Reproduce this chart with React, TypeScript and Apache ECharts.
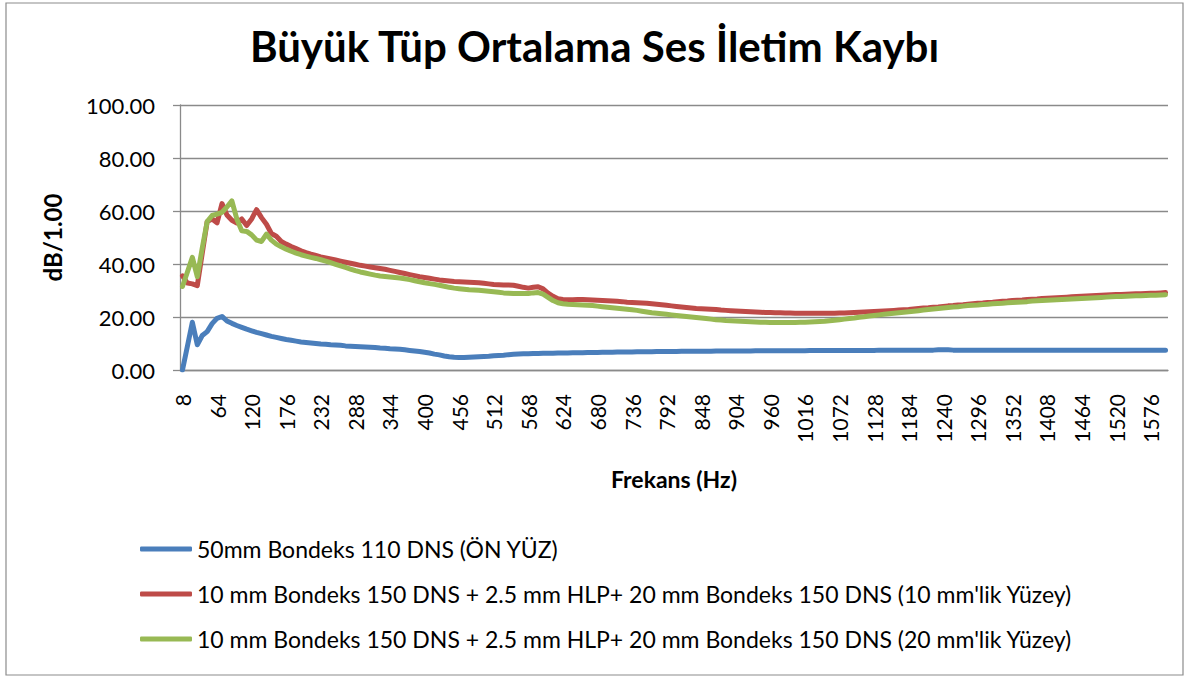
import React, { useEffect, useRef } from "react";
import * as echarts from "echarts";

const titleText = "Büyük Tüp Ortalama Ses İletim Kaybı";
const yAxisName = "dB/1.00";
const xAxisName = "Frekans (Hz)";
const seriesNames = [
  "50mm Bondeks 110 DNS (ÖN YÜZ)",
  "10 mm Bondeks 150 DNS + 2.5 mm HLP+ 20 mm Bondeks 150 DNS (10 mm'lik Yüzey)",
  "10 mm Bondeks 150 DNS + 2.5 mm HLP+ 20 mm Bondeks 150 DNS (20 mm'lik Yüzey)",
];
const seriesColors = ["#4A7EBB", "#BE4B48", "#98B954"];

// Frequencies 8 Hz .. 1600 Hz, step 8 Hz
const frequencies: string[] = [];
for (let f = 8; f <= 1600; f += 8) frequencies.push(String(f));

const blueValues = [
  0, 9, 18, 9.5, 13, 14.5, 17.5, 19.5, 20.2, 18.5,
  17.6, 16.8, 16.1, 15.4, 14.8, 14.2, 13.7, 13.2, 12.7, 12.3,
  11.9, 11.5, 11.2, 10.9, 10.6, 10.4, 10.2, 10.0, 9.8, 9.7,
  9.5, 9.4, 9.3, 9.1, 9.0, 8.9, 8.8, 8.7, 8.6, 8.5,
  8.3, 8.2, 8.0, 7.9, 7.8, 7.6, 7.4, 7.2, 7.0, 6.7,
  6.4, 6.0, 5.7, 5.3, 5.0, 4.8, 4.7, 4.7, 4.8, 4.9,
  5.0, 5.1, 5.2, 5.4, 5.5, 5.6, 5.8, 5.9, 6.0, 6.1,
  6.1, 6.2, 6.2, 6.3, 6.3, 6.3, 6.4, 6.4, 6.4, 6.5,
  6.5, 6.5, 6.6, 6.6, 6.6, 6.7, 6.7, 6.7, 6.8, 6.8,
  6.8, 6.8, 6.9, 6.9, 6.9, 6.9, 7.0, 7.0, 7.0, 7.0,
  7.0, 7.1, 7.1, 7.1, 7.1, 7.1, 7.1, 7.1, 7.2, 7.2,
  7.2, 7.2, 7.2, 7.2, 7.2, 7.2, 7.3, 7.3, 7.3, 7.3,
  7.3, 7.3, 7.3, 7.3, 7.3, 7.3, 7.3, 7.4, 7.4, 7.4,
  7.4, 7.4, 7.4, 7.4, 7.4, 7.4, 7.4, 7.4, 7.4, 7.4,
  7.4, 7.5, 7.5, 7.5, 7.5, 7.5, 7.5, 7.5, 7.5, 7.5,
  7.5, 7.5, 7.5, 7.6, 7.6, 7.6, 7.5, 7.5, 7.5, 7.5,
  7.5, 7.5, 7.5, 7.5, 7.5, 7.5, 7.5, 7.5, 7.5, 7.5,
  7.5, 7.5, 7.5, 7.5, 7.5, 7.5, 7.5, 7.5, 7.5, 7.5,
  7.5, 7.5, 7.5, 7.5, 7.5, 7.5, 7.5, 7.5, 7.5, 7.5,
  7.5, 7.5, 7.5, 7.5, 7.5, 7.5, 7.5, 7.5, 7.5, 7.5,
];

const redValues = [
  35.5, 32.8, 32.5, 31.8, 44, 56, 57, 55.5, 62.8, 58.5,
  56.5, 55.5, 57, 54.5, 57, 60.5, 57.5, 55, 51.5, 50.5,
  48.5, 47.5, 46.6, 45.8, 45.0, 44.3, 43.7, 43.2, 42.7, 42.3,
  41.9, 41.5, 41.1, 40.7, 40.3, 39.9, 39.5, 39.2, 38.9, 38.6,
  38.3, 38.0, 37.6, 37.2, 36.8, 36.4, 36.0, 35.6, 35.2, 34.9,
  34.6, 34.3, 34.0, 33.8, 33.6, 33.4, 33.3, 33.2, 33.1, 33.0,
  32.9, 32.7, 32.5, 32.3, 32.2, 32.1, 32.1, 32.0, 31.6, 31.2,
  30.9, 31.2, 31.4, 30.6, 29.0, 27.8, 26.9, 26.6, 26.5, 26.5,
  26.6, 26.6, 26.5, 26.4, 26.3, 26.2, 26.1, 26.0, 25.9, 25.8,
  25.6, 25.5, 25.4, 25.3, 25.2, 25.0, 24.8, 24.6, 24.4, 24.2,
  24.0, 23.8, 23.6, 23.4, 23.2, 23.1, 23.0, 22.9, 22.8, 22.6,
  22.5, 22.4, 22.3, 22.2, 22.1, 22.0, 21.9, 21.8, 21.7, 21.7,
  21.6, 21.6, 21.5, 21.5, 21.4, 21.4, 21.4, 21.4, 21.4, 21.4,
  21.4, 21.4, 21.4, 21.5, 21.5, 21.6, 21.7, 21.8, 21.9, 22.0,
  22.1, 22.2, 22.3, 22.4, 22.5, 22.6, 22.7, 22.8, 23.0, 23.2,
  23.4, 23.5, 23.7, 23.8, 24.0, 24.2, 24.3, 24.5, 24.6, 24.8,
  25.0, 25.2, 25.3, 25.5, 25.6, 25.8, 25.9, 26.0, 26.2, 26.3,
  26.4, 26.6, 26.7, 26.8, 27.0, 27.1, 27.2, 27.3, 27.4, 27.5,
  27.6, 27.7, 27.8, 27.9, 28.0, 28.1, 28.2, 28.3, 28.4, 28.5,
  28.5, 28.6, 28.7, 28.8, 28.8, 28.9, 29.0, 29.0, 29.1, 29.2,
];

const greenValues = [
  31.5, 37, 42.5, 35.2, 46, 56, 58.3, 58.8, 59.5, 61.5,
  63.8, 57, 52.5, 52.3, 51, 49, 48.5, 51.3, 49, 47.5,
  46.5, 45.6, 44.8, 44.1, 43.5, 43.0, 42.5, 42.1, 41.6, 41.1,
  40.5, 39.9, 39.3, 38.7, 38.1, 37.5, 37.0, 36.6, 36.2, 35.8,
  35.5, 35.3, 35.1, 34.9, 34.7, 34.4, 34.1, 33.7, 33.3, 32.9,
  32.6, 32.3, 32.0, 31.6, 31.2, 30.9, 30.7, 30.5, 30.3, 30.2,
  30.1, 29.9, 29.7, 29.5, 29.3, 29.1, 29.0, 28.9, 28.9, 28.9,
  28.9, 29.1, 29.2, 28.6, 27.4, 26.2, 25.4, 25.0, 24.8, 24.7,
  24.6, 24.5, 24.4, 24.3, 24.1, 23.9, 23.7, 23.5, 23.3, 23.1,
  22.9, 22.7, 22.5, 22.2, 21.9, 21.6, 21.4, 21.2, 21.0, 20.8,
  20.6, 20.4, 20.2, 20.0, 19.8, 19.6, 19.4, 19.2, 19.0, 18.9,
  18.7, 18.6, 18.5, 18.4, 18.3, 18.2, 18.1, 18.0, 18.0, 17.9,
  17.9, 17.9, 17.9, 17.9, 17.9, 18.0, 18.0, 18.1, 18.2, 18.3,
  18.4, 18.6, 18.8, 19.0, 19.2, 19.4, 19.6, 19.9, 20.1, 20.4,
  20.6, 20.8, 21.0, 21.2, 21.4, 21.6, 21.8, 22.0, 22.2, 22.4,
  22.6, 22.8, 23.0, 23.2, 23.4, 23.6, 23.8, 23.9, 24.1, 24.3,
  24.4, 24.5, 24.7, 24.8, 25.0, 25.1, 25.2, 25.4, 25.5, 25.6,
  25.7, 25.8, 26.0, 26.1, 26.2, 26.3, 26.4, 26.5, 26.6, 26.7,
  26.8, 26.9, 27.0, 27.1, 27.2, 27.3, 27.4, 27.5, 27.6, 27.7,
  27.7, 27.8, 27.9, 28.0, 28.0, 28.1, 28.2, 28.2, 28.3, 28.4,
];

const FONT = "Lato";
const GRID_COLOR = "#8a8a8a";

export default function App() {
  const ref = useRef<HTMLDivElement>(null);

  useEffect(() => {
    document.body.style.margin = "0";
    if (!ref.current) return;
    const chart = echarts.init(ref.current, undefined, { renderer: "svg" });
    const allValues = [blueValues, redValues, greenValues];
    chart.setOption({
      animation: false,
      backgroundColor: "#ffffff",
      textStyle: { fontFamily: FONT, color: "#000" },
      title: {
        text: titleText,
        left: "center",
        top: 20,
        textStyle: { fontFamily: FONT, fontSize: 42, fontWeight: "bold", color: "#000" },
      },
      graphic: [
        {
          type: "rect",
          shape: { x: 6, y: 3, width: 1177, height: 672 },
          style: { fill: "none", stroke: "#8c8c8c", lineWidth: 1.2 },
          silent: true,
        },
      ],
      legend: {
        orient: "vertical",
        left: 135,
        top: 532,
        icon: "roundRect",
        itemWidth: 52,
        itemHeight: 5,
        itemGap: 21,
        data: seriesNames,
        textStyle: { fontFamily: FONT, fontSize: 23, lineHeight: 24, color: "#000" },
      },
      grid: { left: 180, right: 21, top: 105, bottom: 310, containLabel: false },
      xAxis: {
        type: "category",
        data: frequencies,
        boundaryGap: true,
        name: xAxisName,
        nameLocation: "middle",
        nameGap: 97,
        nameTextStyle: { fontFamily: FONT, fontSize: 23, fontWeight: "bold", color: "#000" },
        axisLine: { show: true, lineStyle: { color: GRID_COLOR, width: 1.3 } },
        axisTick: { show: false },
        axisLabel: {
          interval: 6,
          rotate: 90,
          margin: 24,
          fontFamily: FONT,
          fontSize: 21,
          color: "#000",
        },
        splitLine: { show: false },
      },
      yAxis: {
        type: "value",
        min: 0,
        max: 100,
        interval: 20,
        name: yAxisName,
        nameLocation: "middle",
        nameGap: 116,
        nameRotate: 90,
        nameTextStyle: { fontFamily: FONT, fontSize: 24, fontWeight: "bold", color: "#000" },
        axisLine: { show: true, lineStyle: { color: GRID_COLOR, width: 1.3 } },
        axisTick: { show: true, length: 7, lineStyle: { color: GRID_COLOR, width: 1.3 } },
        axisLabel: {
          margin: 25,
          fontFamily: FONT,
          fontSize: 22,
          color: "#000",
          formatter: (v: number) => v.toFixed(2),
        },
        splitLine: { show: true, lineStyle: { color: GRID_COLOR, width: 1.3 } },
      },
      series: seriesNames.map((name, i) => ({
        name,
        type: "line",
        data: allValues[i],
        symbol: "none",
        smooth: false,
        color: seriesColors[i],
        lineStyle: { width: 5, color: seriesColors[i], cap: "round", join: "round" },
      })),
    });
    return () => chart.dispose();
  }, []);

  return <div ref={ref} style={{ width: 1189, height: 680 }} />;
}
